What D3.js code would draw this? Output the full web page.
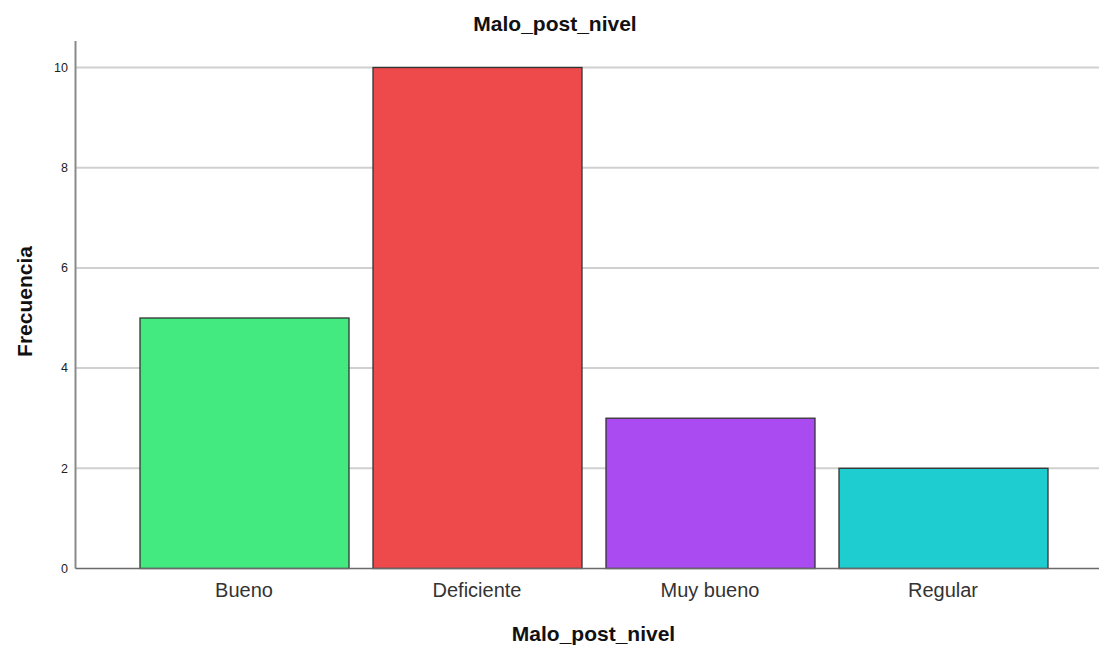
<!DOCTYPE html>
<html><head><meta charset="utf-8">
<script src="https://cdn.jsdelivr.net/npm/d3@7"></script>
<style>body{margin:0;background:#fff}svg{display:block}</style>
</head><body>
<svg id="c" width="1099" height="645"></svg>
<script>
const categories = ["Bueno","Deficiente","Muy bueno","Regular"];
const values = [5,10,3,2];
const colors = ["#43EA80","#EE4A4C","#A94BF0","#1DCDCF"];
const yTicks = [0,2,4,6,8,10];
const title = "Malo_post_nivel";
const xTitle = "Malo_post_nivel";
const yTitle = "Frecuencia";

const svg = d3.select("#c");
const font = "Liberation Sans, Arial, sans-serif";
const x = d3.scaleBand().domain(categories).range([127.5,1059.5]).paddingInner(24/233).paddingOuter(12/233);
const y = d3.scaleLinear().domain([0,10]).range([568.5,67.5]);
const left = 75.5, right = 1099;

// gridlines
svg.append("g").selectAll("line").data(yTicks.filter(d=>d>0)).join("line")
  .attr("x1",left).attr("x2",right).attr("y1",d=>y(d)).attr("y2",d=>y(d))
  .attr("stroke","#d0d0d0").attr("stroke-width",2);

// bars
svg.append("g").selectAll("rect").data(categories).join("rect")
  .attr("x",d=>x(d)+0.5).attr("width",x.bandwidth())
  .attr("y",(d,i)=>y(values[i])).attr("height",(d,i)=>y(0)-y(values[i]))
  .attr("fill",(d,i)=>colors[i]).attr("stroke","#333").attr("stroke-width",1.3);

// axes lines
svg.append("line").attr("x1",left).attr("x2",left).attr("y1",41).attr("y2",y(0))
  .attr("stroke","#8a8a8a").attr("stroke-width",2);
svg.append("line").attr("x1",left).attr("x2",right).attr("y1",y(0)).attr("y2",y(0))
  .attr("stroke","#6a6a6a").attr("stroke-width",1.5);

// y tick labels
svg.append("g").selectAll("text").data(yTicks).join("text")
  .attr("x",68).attr("y",d=>y(d)).attr("dy","0.35em").attr("text-anchor","end")
  .attr("font-family",font).attr("font-size",12.5).attr("fill","#222").text(d=>d);

// x labels
svg.append("g").selectAll("text").data(categories).join("text")
  .attr("x",d=>x(d)+x.bandwidth()/2).attr("y",597).attr("text-anchor","middle")
  .attr("font-family",font).attr("font-size",20).attr("fill","#333").text(d=>d);

svg.append("text").attr("x",555).attr("y",31).attr("text-anchor","middle")
  .attr("font-family",font).attr("font-size",21).attr("font-weight","bold").attr("fill","#111").text(title);
svg.append("text").attr("x",593.5).attr("y",641).attr("text-anchor","middle")
  .attr("font-family",font).attr("font-size",21).attr("font-weight","bold").attr("fill","#111").text(xTitle);
svg.append("text").attr("transform","translate(32,301.5) rotate(-90)").attr("text-anchor","middle")
  .attr("font-family",font).attr("font-size",21).attr("font-weight","bold").attr("fill","#111").text(yTitle);
</script>
</body></html>
